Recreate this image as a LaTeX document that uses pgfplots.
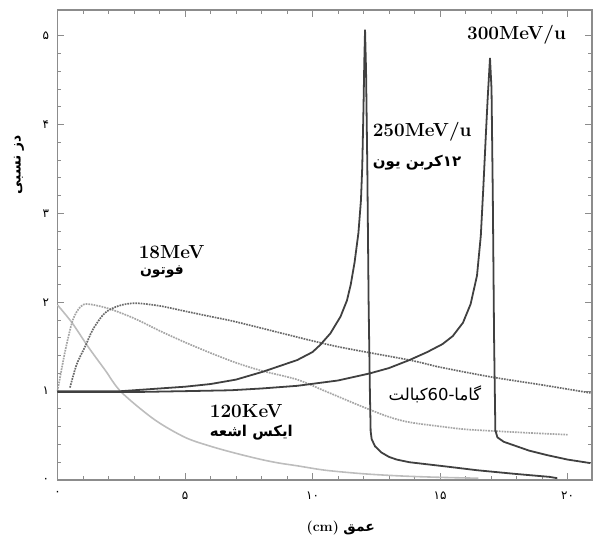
\documentclass[border=0pt]{standalone}
\usepackage{fontspec}
\usepackage{pgfplots}
\pgfplotsset{compat=1.18}
\TeXXeTstate=1
\newfontfamily\arabicfont[Script=Arabic]{DejaVu Sans}
\newfontfamily\digitfont{DejaVu Sans}
\definecolor{frame}{HTML}{8C8C8C}
\definecolor{carbon}{HTML}{404040}
\definecolor{xray}{HTML}{BDBDBD}
\definecolor{photon}{HTML}{6A6A6A}
\definecolor{cobalt}{HTML}{A5A5A5}
\begin{document}
\begin{tikzpicture}
\path[use as bounding box] (-57.5bp,-62bp) rectangle (535.5bp,480bp);
\begin{axis}[
  at={(0,0)}, anchor=south west,
  scale only axis, width=534.5bp, height=470bp,
  xmin=0, xmax=20.96, ymin=0, ymax=5.29,
  axis line style={frame, line width=1.3pt},
  every tick/.style={frame, line width=0.9pt},
  major tick length=7bp, minor tick length=4bp,
  xtick={0,5,10,15,20},
  xticklabels={{\digitfont ۰},{\digitfont ۵},{\digitfont ۱۰},{\digitfont ۱۵},{\digitfont ۲۰}},
  ytick={0,1,2,3,4,5},
  yticklabels={{\digitfont ۰},{\digitfont ۱},{\digitfont ۲},{\digitfont ۳},{\digitfont ۴},{\digitfont ۵}},
  minor x tick num=4, minor y tick num=4,
  ticklabel style={font=\fontsize{12}{14}\selectfont},
  xticklabel style={yshift=-8bp},
  yticklabel style={xshift=-5bp},
  clip=false,
]
% 120 KeV X-ray
\addplot[xray, line width=1.6pt, smooth] coordinates {
(0,1.97) (0.57,1.77) (1.2,1.5) (1.86,1.24) (2.5,0.99) (3.8,0.68) (5,0.48)
(6,0.38) (7,0.30) (8,0.23) (8.7,0.19) (9.4,0.16) (10.5,0.11) (12,0.07)
(13.5,0.045) (15,0.03) (16.5,0.02)};
% Co-60 gamma
\addplot[cobalt, line width=1.7pt, densely dotted, smooth] coordinates {
(0,1.0) (0.3,1.45) (0.6,1.8) (0.9,1.95) (1.2,1.98) (2,1.93) (3,1.82) (4,1.68)
(5,1.55) (6,1.43) (7,1.32) (8,1.23) (9.4,1.13) (10.5,1.0) (12,0.82)
(13,0.71) (13.8,0.65) (15.1,0.6) (16,0.57) (17.2,0.55) (18.5,0.53) (20,0.51)};
% 18 MeV photons
\addplot[photon, line width=1.7pt, densely dotted, smooth] coordinates {
(0.49,1.04) (0.75,1.3) (1.08,1.5) (1.4,1.7) (1.86,1.88) (2.4,1.96) (3.04,1.99)
(4,1.96) (5,1.9) (6,1.84) (7,1.78) (9.1,1.63) (11,1.5) (13.8,1.35)
(15,1.27) (17,1.16) (19,1.07) (20.9,0.98)};
% Carbon 250 MeV/u
\addplot[carbon, line width=1.8pt] coordinates {
(0,1.0) (1,1.0) (2,1.0) (2.5,1.0) (3,1.01) (4,1.03) (5,1.05) (6,1.08) (7,1.13)
(8.07,1.22) (9.4,1.35) (10,1.44) (10.3,1.52) (10.7,1.65) (11.1,1.84) (11.35,2.02)
(11.5,2.2) (11.65,2.45) (11.8,2.78) (11.9,3.15) (11.95,3.52) (12.0,4.2) (12.03,4.7)
(12.06,5.07) (12.1,4.6) (12.15,3.5) (12.2,2.0) (12.25,1.0) (12.28,0.55)
(12.32,0.46) (12.45,0.38) (12.7,0.31) (13.0,0.26) (13.3,0.23) (13.8,0.2)
(15.3,0.15) (16.45,0.11) (17.9,0.07) (19.3,0.035) (19.6,0.02)};
% Carbon 300 MeV/u
\addplot[carbon, line width=1.8pt] coordinates {
(0,0.99) (3,0.99) (5,1.0) (6.8,1.01) (8,1.03) (9.4,1.06) (11,1.12) (12.25,1.2)
(13,1.26) (13.8,1.35) (14.5,1.44) (15.1,1.53) (15.5,1.62) (15.9,1.77) (16.2,1.98)
(16.45,2.3) (16.6,2.75) (16.7,3.3) (16.8,3.9) (16.87,4.3) (16.96,4.75) (17.02,4.4)
(17.07,3.2) (17.12,1.6) (17.17,0.56) (17.25,0.48) (17.5,0.43) (17.9,0.39)
(18.5,0.33) (19.2,0.28) (20,0.23) (20.9,0.19)};
% labels
\node[font=\fontsize{19}{21}\selectfont\bfseries] at (axis cs:18.0,5.01) {300MeV/u};
\node[font=\fontsize{19}{21}\selectfont\bfseries] at (axis cs:14.3,3.92) {250MeV/u};
\node[font=\fontsize{15}{18}\selectfont\arabicfont\bfseries] at (axis cs:14.1,3.57) {\beginR\mbox{۱۲}\mbox{کربن} \mbox{یون}\endR};
\node[font=\fontsize{19}{21}\selectfont\bfseries, anchor=west] at (axis cs:3.05,2.57) {18MeV};
\node[font=\fontsize{14}{17}\selectfont\arabicfont\bfseries, anchor=west] at (axis cs:3.1,2.34) {\beginR فوتون\endR};
\node[font=\fontsize{19}{21}\selectfont\bfseries] at (axis cs:7.4,0.77) {120KeV};
\node[font=\fontsize{15}{18}\selectfont\arabicfont\bfseries] at (axis cs:7.6,0.53) {\beginR ایکس اشعه\endR};
\node[font=\fontsize{16.5}{19}\selectfont\arabicfont] at (axis cs:14.8,0.96) {\beginR\mbox{گاما}\mbox{-}\mbox{60}\mbox{کبالت}\endR};
\node[font=\fontsize{14}{16}\selectfont\arabicfont\bfseries, rotate=90] at (rel axis cs:-0.072,0.67) {\beginR دز نسبی\endR};
\node[font=\fontsize{14}{16}\selectfont] at (rel axis cs:0.53,-0.102) {\beginR\mbox{\arabicfont\bfseries عمق} \mbox{\bfseries (cm)}\endR};
\end{axis}
\end{tikzpicture}
\end{document}
